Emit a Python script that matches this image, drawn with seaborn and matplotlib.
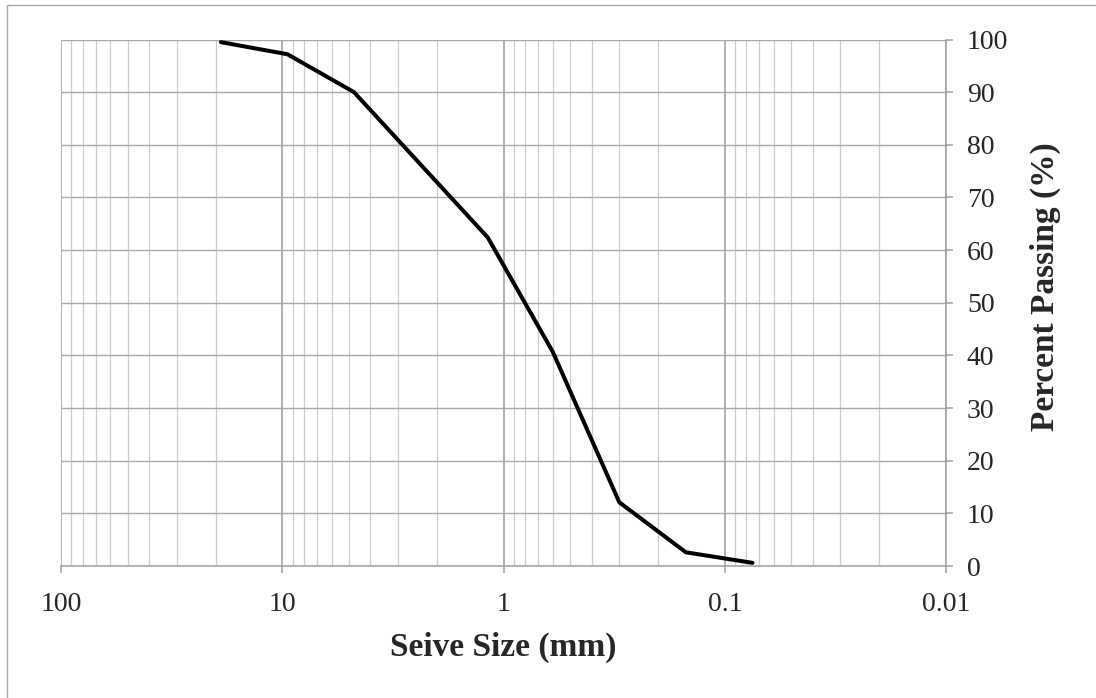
import numpy as np
import pandas as pd
import matplotlib
matplotlib.use("Agg")
import matplotlib.pyplot as plt
import matplotlib.ticker as mticker
from matplotlib.patches import Rectangle
import seaborn as sns

# sieve analysis values
sieve_mm = [19, 9.5, 4.75, 1.18, 0.6, 0.3, 0.15, 0.075]
passing = [99.5, 97.2, 90.0, 62.4, 40.7, 12.1, 2.6, 0.6]
x_ticks = [100, 10, 1, 0.1, 0.01]
y_ticks = list(range(0, 101, 10))

df = pd.DataFrame({"size": sieve_mm, "passing": passing})

sns.set_theme(style="white")
plt.rcParams['font.family'] = ['Liberation Serif', 'DejaVu Serif']

W, H = 1096, 698
fig = plt.figure(figsize=(W / 100, H / 100), dpi=100)
ax = fig.add_axes([61.3 / W, (H - 566) / H, (946 - 61.3) / W, (566 - 39.5) / H])

ax.set_xscale("log")
sns.lineplot(data=df, x="size", y="passing", ax=ax, color="black",
             linewidth=2.9, sort=False, zorder=5)

ax.set_xlim(100, 0.01)
ax.set_ylim(0, 100)
ax.set_xticks(x_ticks)
ax.xaxis.set_major_formatter(mticker.FuncFormatter(lambda v, p: "{:g}".format(v)))
ax.xaxis.set_minor_locator(mticker.LogLocator(base=10, subs=np.arange(2, 10), numticks=20))
ax.xaxis.set_minor_formatter(mticker.NullFormatter())
ax.set_yticks(y_ticks)
ax.yaxis.tick_right()
ax.yaxis.set_label_position("right")

# gridlines like the spreadsheet chart
ax.grid(which="major", axis="x", color="#9a9a9a", linewidth=1.1)
ax.grid(which="minor", axis="x", color="#cdcdcd", linewidth=0.9)
ax.grid(which="major", axis="y", color="#a8a8a8", linewidth=1.0)

for s in ["top", "left"]:
    ax.spines[s].set_visible(False)
for s in ["bottom", "right"]:
    ax.spines[s].set_color("#a0a0a0")
    ax.spines[s].set_linewidth(1.1)

ax.tick_params(axis="x", which="major", direction="out", length=5, width=1.1,
               color="#a0a0a0", labelsize=20, pad=14, bottom=True)
ax.tick_params(axis="x", which="minor", length=0)
ax.tick_params(axis="y", which="major", direction="out", length=5, width=1.1,
               color="#a0a0a0", labelsize=20, pad=10, right=True, left=False)

ax.set_xlabel("Seive Size (mm)", fontsize=24, fontweight="bold")
ax.set_ylabel("Percent Passing (%)", fontsize=24, fontweight="bold")
ax.xaxis.set_label_coords(0.499, -0.154)
ax.xaxis.label.set_va("center")
ax.yaxis.set_label_coords(1.112, 0.53)
ax.yaxis.label.set_va("center")
ax.yaxis.label.set_ha("center")

# chart area border
fig.add_artist(Rectangle((6.7 / W, -0.1), 1.2, (H - 5.3) / H + 0.1,
                         transform=fig.transFigure, fill=False,
                         edgecolor="#a6a6a6", linewidth=1.0))

fig.savefig("out.png", dpi=100)
